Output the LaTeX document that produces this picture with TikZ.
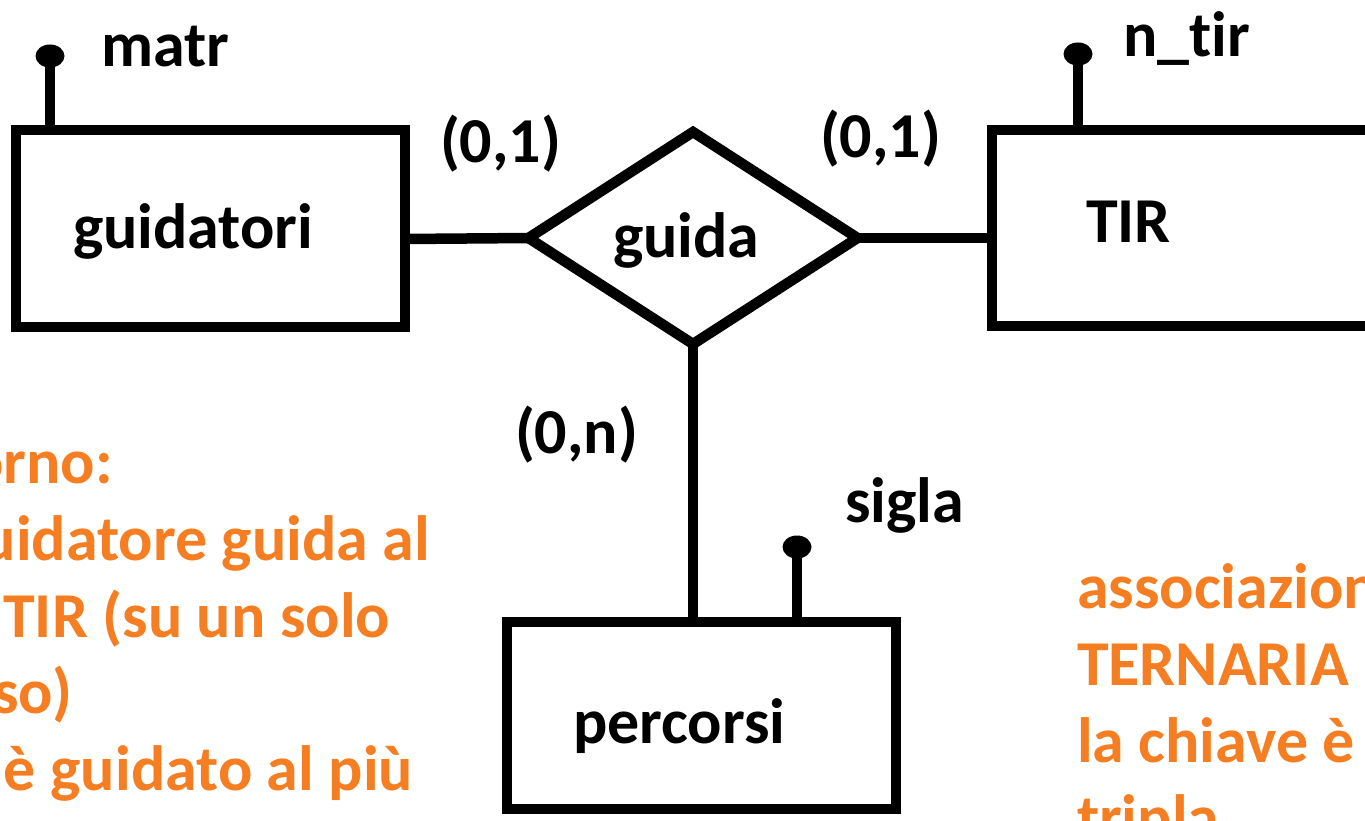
\documentclass[tikz,border=0pt]{standalone}
\usepackage{fontspec}
\setmainfont{Carlito}[Ligatures=NoCommon]
\usetikzlibrary{shapes.geometric}
\definecolor{noteorange}{HTML}{F57D22}
\begin{document}
\begin{tikzpicture}[x=1pt,y=-1pt,
  lbl/.style={inner sep=0pt, outer sep=0pt, font=\fontsize{64}{77}\selectfont\bfseries},
  note/.style={lbl, text=noteorange},
  ent/.style={draw, rectangle, line width=10.5pt, inner sep=0pt, outer sep=0pt, minimum width=389pt},
  rel/.style={draw, diamond, line width=10.5pt, inner sep=0pt, outer sep=0pt, minimum width=329pt, minimum height=212pt},
  conn/.style={line width=10.5pt},
  keydot/.style={ellipse, fill, inner sep=0pt, minimum width=29pt, minimum height=23pt}]
\useasboundingbox (0,0) rectangle (1365,821);
\clip (0,0) rectangle (1365,821);

% entities
\node[ent, minimum height=197pt] (g) at (210.5,228.5) {};
\node[ent, minimum height=196pt] (t) at (1186.5,228) {};
\node[ent, minimum height=187pt] (p) at (701.5,715.5) {};
% relationship
\node[rel] (d) at (693,238) {};

% connectors
\draw[conn] (g.east |- 0,239) -- (d.west);
\draw[conn] (d.east) -- (t.west |- d.east);
\draw[conn] (d.south) -- (d.south |- p.north);

% key attributes
\node[keydot] (km) at (50,56) {};
\draw[conn] (km.center) -- (km.center |- g.north);
\node[keydot] (kt) at (1078,54) {};
\draw[conn] (kt.center) -- (kt.center |- t.north);
\node[keydot] (ks) at (797,547) {};
\draw[conn] (ks.center) -- (ks.center |- p.north);

% labels
\node[lbl, anchor=base west] (gl) at (73,248) {guidatori};
\node[lbl, anchor=base west] (tl) at (1086,243) {TIR};
\node[lbl, anchor=base west] (pl) at (573,743) {percorsi};
\node[lbl, anchor=base west] (dl) at (613,257) {guida};
\node[lbl, anchor=base west] (ml) at (101,67) {matr};
\node[lbl, anchor=base west] (nl) at (1123,57) {n\_tir};
\node[lbl, anchor=base west] (sl) at (845,522) {sigla};
\node[lbl, anchor=base west] (c1) at (440,163) {(0,1)};
\node[lbl, anchor=base west] (c2) at (820,158) {(0,1)};
\node[lbl, anchor=base west] (c3) at (515,453) {(0,n)};

% orange notes
\node[note, anchor=base east] (n1) at (113,483) {orno:};
\node[note, anchor=base east] (n2) at (430,560) {uidatore guida al};
\node[note, anchor=base east] (n3) at (390,637) {TIR (su un solo};
\node[note, anchor=base east] (n4) at (72,713) {so)};
\node[note, anchor=base east] (n5) at (413,790) {è guidato al più};

\node[note, anchor=base west] (r1) at (1077,608) {associazione};
\node[note, anchor=base west] (r2) at (1077,685) {TERNARIA};
\node[note, anchor=base west] (r3) at (1077,762) {la chiave è};
\node[note, anchor=base west] (r4) at (1077,839) {tripla};
\end{tikzpicture}
\end{document}
